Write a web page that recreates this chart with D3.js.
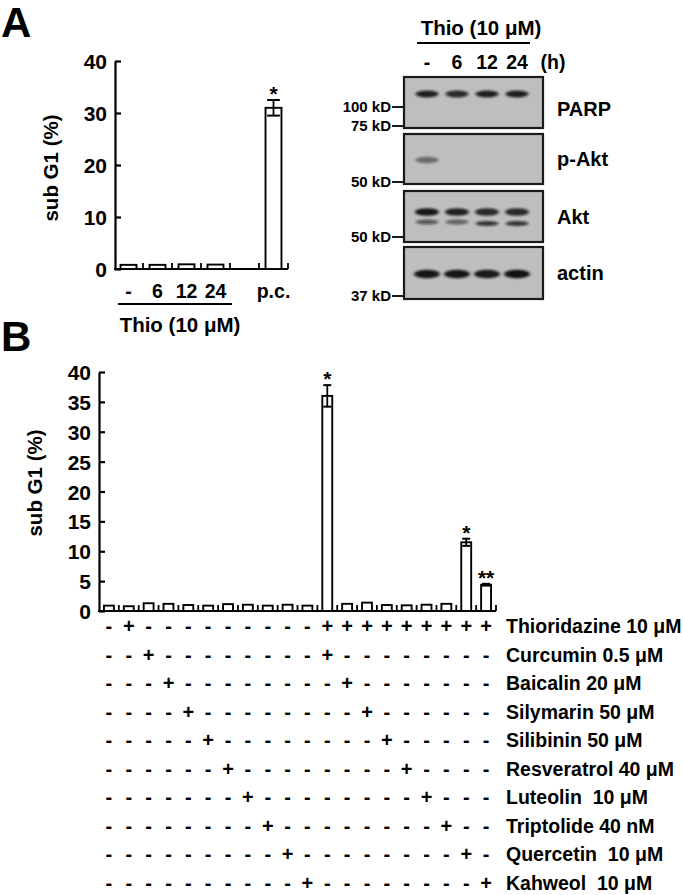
<!DOCTYPE html>
<html><head><meta charset="utf-8">
<script src="https://cdn.jsdelivr.net/npm/d3@7"></script>
<style>
body{margin:0;background:#fff}
svg{display:block}
text{font-family:"Liberation Sans",Arial,Helvetica,sans-serif;font-weight:bold;fill:#000}
</style>
</head><body>
<svg id="fig" width="683" height="895"></svg>
<script>
// ---------- Panel A: sub G1 bar chart ----------
const timeLabels = ["-", "6", "12", "24", "", "p.c."];
const subG1A = [0.8, 0.8, 0.9, 0.85, null, 31];
const errA = [0, 0, 0, 0, null, 1.5];
const sigA = ["", "", "", "", "", "*"];
const yTicksA = [0, 10, 20, 30, 40];

// ---------- Panel A: western blot ----------
const blotLanes = ["-", "6", "12", "24"];
const blotProteins = ["PARP", "p-Akt", "Akt", "actin"];
const parpBand = [0.9, 0.85, 0.9, 0.9];
const pAktBand = [0.5, 0, 0, 0];
const aktUpperBand = [0.95, 0.9, 0.85, 0.85];
const aktLowerBand = [0.6, 0.55, 0.8, 0.8];
const actinBand = [0.95, 0.95, 0.93, 0.97];
const markers = ["100 kD", "75 kD", "50 kD", "50 kD", "37 kD"];

// ---------- Panel B ----------
const treatments = ["Thioridazine 10 μM", "Curcumin 0.5 μM", "Baicalin 20 μM", "Silymarin 50 μM",
  "Silibinin 50 μM", "Resveratrol 40 μM", "Luteolin  10 μM", "Triptolide 40 nM",
  "Quercetin  10 μM", "Kahweol  10 μM"];
const subG1B = [0.9, 0.8, 1.3, 1.2, 1.0, 0.9, 1.15, 1.05, 0.9, 1.05, 0.9,
  36, 1.2, 1.4, 1.0, 0.95, 1.05, 1.2, 11.5, 4.4];
const errB = [0, 0, 0, 0, 0, 0, 0, 0, 0, 0, 0, 1.8, 0, 0, 0, 0, 0, 0, 0.6, 0.15];
const sigB = ["", "", "", "", "", "", "", "", "", "", "", "*", "", "", "", "", "", "", "*", "**"];
const yTicksB = [0, 5, 10, 15, 20, 25, 30, 35, 40];
const treatmentRows = [
  "-+---------+++++++++",
  "--+--------+--------",
  "---+--------+-------",
  "----+--------+------",
  "-----+--------+-----",
  "------+--------+----",
  "-------+--------+---",
  "--------+--------+--",
  "---------+--------+-",
  "----------+--------+"
];

const svg = d3.select("#fig");

// ===== Panel labels =====
svg.append("text").attr("x", 1).attr("y", 37).attr("font-size", 42).text("A");
svg.append("text").attr("x", 1).attr("y", 351).attr("font-size", 42).text("B");

// generic bar chart drawer
function barChart(g, cfg) {
  const y = d3.scaleLinear().domain([0, 40]).range([cfg.y0, cfg.y1]);
  const x = d3.scaleBand().domain(d3.range(cfg.values.length))
    .range([cfg.x0, cfg.x1]).paddingInner(cfg.padIn).paddingOuter(cfg.padIn / 2);
  const ax = d3.axisLeft(y).tickValues(cfg.ticks).tickSizeInner(-6).tickSizeOuter(0).tickPadding(cfg.tickPad);
  const ag = g.append("g").attr("transform", `translate(${cfg.axisX},0)`).call(ax);
  ag.select(".domain").attr("stroke", "#000").attr("stroke-width", 2.2);
  ag.selectAll(".tick line").attr("stroke", "#000").attr("stroke-width", 2.2);
  ag.selectAll(".tick text").attr("font-size", cfg.tickFont).attr("font-family", null).attr("fill", "#000")
    .attr("dy", "0.36em");
  g.append("line").attr("x1", cfg.axisX - 1).attr("x2", cfg.x1).attr("y1", y(0)).attr("y2", y(0))
    .attr("stroke", "#000").attr("stroke-width", 2.2);
  const step = x.step();
  g.selectAll("line.bt").data(d3.range(1, cfg.values.length + 1)).join("line")
    .attr("x1", i => x(i - 1) + x.bandwidth() / 2 + step / 2)
    .attr("x2", i => x(i - 1) + x.bandwidth() / 2 + step / 2)
    .attr("y1", y(0)).attr("y2", y(0) - 6).attr("stroke", "#000").attr("stroke-width", 1.8);
  const data = cfg.values.map((v, i) => ({ v, i, e: cfg.err[i], s: cfg.sig[i] })).filter(d => d.v != null);
  g.selectAll("rect.bar").data(data).join("rect")
    .attr("x", d => x(d.i)).attr("width", x.bandwidth())
    .attr("y", d => y(d.v)).attr("height", d => y(0) - y(d.v))
    .attr("fill", "#fff").attr("stroke", "#000").attr("stroke-width", 1.9);
  const cw = x.bandwidth() * 0.8;
  data.filter(d => d.e > 0).forEach(d => {
    const cx = x(d.i) + x.bandwidth() / 2;
    g.append("line").attr("x1", cx).attr("x2", cx).attr("y1", y(d.v + d.e)).attr("y2", y(d.v - d.e))
      .attr("stroke", "#000").attr("stroke-width", 1.8);
    [d.v + d.e, d.v - d.e].forEach(val => g.append("line").attr("x1", cx - cw / 2).attr("x2", cx + cw / 2)
      .attr("y1", y(val)).attr("y2", y(val)).attr("stroke", "#000").attr("stroke-width", 2));
  });
  g.selectAll("text.sig").data(data.filter(d => d.s)).join("text")
    .attr("x", d => x(d.i) + x.bandwidth() / 2).attr("y", d => y(d.v + d.e) + 1)
    .attr("text-anchor", "middle").attr("font-size", 21).text(d => d.s);
  g.append("text").attr("transform", `translate(${cfg.labelX},${cfg.labelY}) rotate(-90)`)
    .attr("text-anchor", "middle").attr("font-size", 20.5).text("sub G1 (%)");
  return { x, y };
}

// ===== Panel A chart =====
const gA = svg.append("g");
const A = barChart(gA, {
  values: subG1A, err: errA, sig: sigA, ticks: yTicksA,
  y0: 269, y1: 61, x0: 114, x1: 288, axisX: 115, padIn: 0.45,
  tickPad: 8, tickFont: 21, labelX: 58, labelY: 168
});
gA.selectAll("text.cat").data(timeLabels).join("text")
  .attr("x", (d, i) => A.x(i) + A.x.bandwidth() / 2).attr("y", 298)
  .attr("text-anchor", "middle").attr("font-size", 19.5).text(d => d);
gA.append("line").attr("x1", 118).attr("x2", 232).attr("y1", 304).attr("y2", 304)
  .attr("stroke", "#000").attr("stroke-width", 1.8);
gA.append("text").attr("x", 180).attr("y", 332).attr("text-anchor", "middle").attr("font-size", 20.5)
  .text("Thio (10 μM)");

// ===== Western blot =====
const gW = svg.append("g");
const defs = svg.append("defs");
defs.append("filter").attr("id", "blur").attr("x", "-50%").attr("y", "-200%").attr("width", "200%").attr("height", "500%")
  .append("feGaussianBlur").attr("stdDeviation", "1.6 1.3");
const lane = d3.scaleBand().domain(d3.range(4)).range([412, 532]);
const boxX0 = 404, boxX1 = 543;
const panels = [[77, 128], [134, 184], [191, 242], [247, 299]];
gW.append("text").attr("x", 481).attr("y", 35).attr("text-anchor", "middle").attr("font-size", 20.5).text("Thio (10 μM)");
gW.append("line").attr("x1", 417).attr("x2", 530).attr("y1", 43).attr("y2", 43).attr("stroke", "#000").attr("stroke-width", 1.8);
gW.selectAll("text.lane").data(blotLanes).join("text")
  .attr("x", (d, i) => lane(i) + lane.bandwidth() / 2).attr("y", 69)
  .attr("text-anchor", "middle").attr("font-size", 19.5).text(d => d);
gW.append("text").attr("x", 553).attr("y", 69).attr("text-anchor", "middle").attr("font-size", 19.5).text("(h)");
panels.forEach((p, k) => {
  gW.append("rect").attr("x", boxX0).attr("y", p[0]).attr("width", boxX1 - boxX0).attr("height", p[1] - p[0])
    .attr("fill", "#bebebe").attr("stroke", "#1a1a1a").attr("stroke-width", 2.2);
  gW.append("text").attr("x", 557).attr("y", (p[0] + p[1]) / 2 + 7 + (k === 0 ? 6 : 0))
    .attr("font-size", 20).text(blotProteins[k]);
});
function bands(vals, cy, ry, rx, dy) {
  gW.selectAll(null).data(vals).join("ellipse")
    .attr("cx", (d, i) => lane(i) + lane.bandwidth() / 2)
    .attr("cy", (d, i) => cy + (dy ? dy[i] : 0))
    .attr("rx", rx).attr("ry", ry)
    .attr("fill", "#111").attr("fill-opacity", d => d)
    .attr("filter", "url(#blur)");
}
bands(parpBand, 94, 3.4, 11.5);
bands(pAktBand, 160, 3.2, 11.5);
bands(aktUpperBand, 212, 3.8, 12);
bands(aktLowerBand, 222, 2.5, 11.5, [0, 0, 1.5, 1.5]);
bands(actinBand, 274, 4.3, 13);
const markerY = [107, 126, 182, 237, 296];
markers.forEach((m, i) => {
  gW.append("text").attr("x", 391).attr("y", markerY[i] + 5).attr("text-anchor", "end").attr("font-size", 15).text(m);
  gW.append("line").attr("x1", 392).attr("x2", 404).attr("y1", markerY[i]).attr("y2", markerY[i])
    .attr("stroke", "#000").attr("stroke-width", 1.8);
});

// ===== Panel B chart =====
const gB = svg.append("g");
const B = barChart(gB, {
  values: subG1B, err: errB, sig: sigB, ticks: yTicksB,
  y0: 611, y1: 372, x0: 99, x1: 496, axisX: 99, padIn: 0.5,
  tickPad: 8, tickFont: 21, labelX: 42, labelY: 483
});
const rowY = d3.scaleBand().domain(d3.range(treatments.length)).range([612, 897]);
treatmentRows.forEach((row, r) => {
  const cy = rowY(r) + rowY.bandwidth() / 2;
  gB.selectAll(null).data(row.split("")).join("text")
    .attr("x", (d, i) => B.x(i) + B.x.bandwidth() / 2).attr("y", cy + 7)
    .attr("text-anchor", "middle").attr("font-size", 20).text(d => d);
  gB.append("text").attr("x", 506).attr("y", cy + 7).attr("font-size", 19.5)
    .style("white-space", "pre").text(treatments[r]);
});
</script>
</body></html>
